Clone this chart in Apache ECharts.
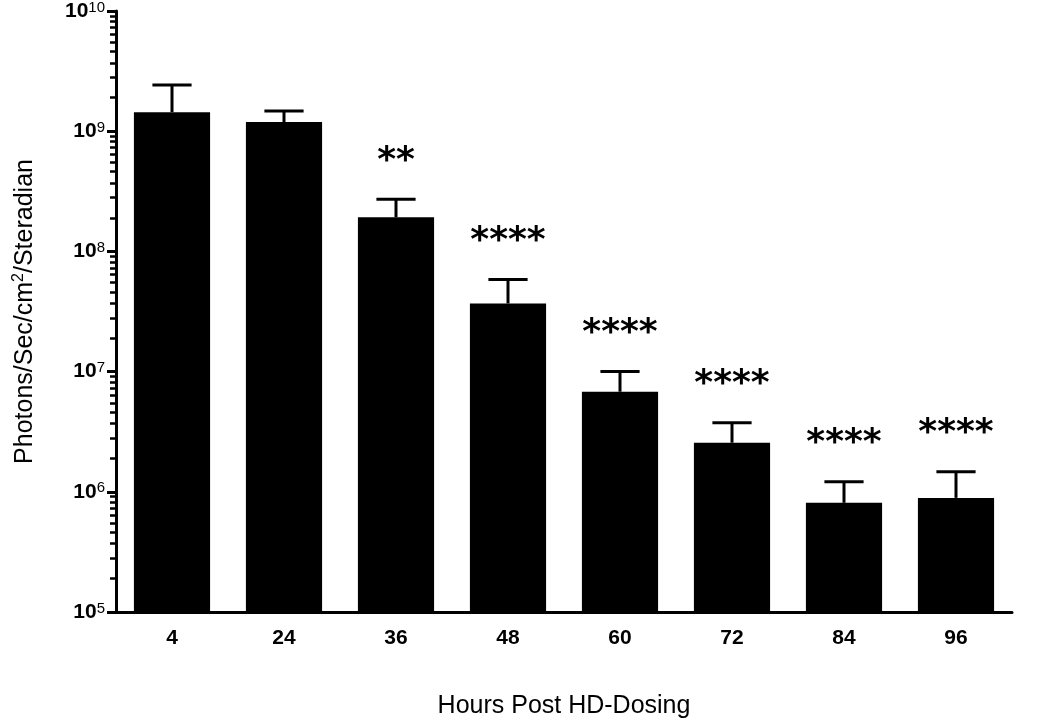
<!DOCTYPE html>
<html>
<head>
<meta charset="utf-8">
<script src="https://cdn.jsdelivr.net/npm/echarts@6/dist/echarts.min.js"></script>
<style>
  html, body { margin: 0; padding: 0; background: #fff; }
  #chart { width: 1050px; height: 721px; }
</style>
</head>
<body>
<div id="chart"></div>
<script>
// hours after dosing
var hours = ['4', '24', '36', '48', '60', '72', '84', '96'];
// mean signal, photons/sec/cm2/sr
var means = [1.44e9, 1.19e9, 1.92e8, 3.69e7, 6.8e6, 2.56e6, 8.1e5, 8.9e5];
// mean + error (upper whisker)
var upper = [2.42e9, 1.47e9, 2.71e8, 5.84e7, 1.0e7, 3.76e6, 1.21e6, 1.47e6];
// significance marks
var stars = ['', '', '**', '****', '****', '****', '****', '****'];

var chart = echarts.init(document.getElementById('chart'));

var font = 'Liberation Sans, Arial, sans-serif';

chart.setOption({
    animation: false,
    grid: {
        left: 116,
        right: 38,
        top: 11,
        bottom: 109,
        outerBoundsMode: 'none'
    },
    xAxis: {
        type: 'category',
        data: hours,
        name: 'Hours Post HD-Dosing',
        nameLocation: 'middle',
        nameGap: 82,
        nameTextStyle: { fontFamily: font, fontSize: 25, color: '#000' },
        axisLine: { lineStyle: { color: '#000', width: 3 } },
        axisTick: { alignWithLabel: true, length: 9, lineStyle: { width: 3, color: '#000' } },
        axisLabel: { margin: 16, fontFamily: font, fontSize: 21, fontWeight: 'bold', color: '#000' }
    },
    yAxis: {
        type: 'log',
        logBase: 10,
        min: 1e5,
        max: 1e10,
        name: '{a|Photons/Sec/cm}{s|2}{a|/Steradian}',
        nameLocation: 'middle',
        nameGap: 77,
        nameTextStyle: {
            color: '#000',
            rich: {
                a: { fontFamily: font, fontSize: 25, color: '#000', lineHeight: 28 },
                s: { fontFamily: font, fontSize: 16, color: '#000', verticalAlign: 'top', lineHeight: 28, padding: [0, 0, 12, 0] }
            }
        },
        splitLine: { show: false },
        axisLine: { show: true, lineStyle: { color: '#000', width: 3 } },
        axisTick: { show: true, length: 9, lineStyle: { width: 3, color: '#000' } },
        minorTick: { show: true, splitNumber: 10, length: 6, lineStyle: { width: 2.5, color: '#000' } },
        axisLabel: {
            margin: 11,
            color: '#000',
            formatter: function (v) {
                var e = Math.round(Math.log10(v));
                return '{b|10}{s|' + e + '}';
            },
            rich: {
                b: { fontFamily: font, fontSize: 21, fontWeight: 'bold', color: '#000', lineHeight: 22 },
                s: { fontFamily: font, fontSize: 15, color: '#000', verticalAlign: 'top', lineHeight: 22, padding: [0, 0, 9, 0] }
            }
        }
    },
    series: [{
        type: 'bar',
        data: means,
        barCategoryGap: '32%',
        itemStyle: { color: '#000' },
        clip: true,
        z: 2
    }, {
        type: 'custom',
        z: 3,
        data: hours.map(function (h, i) { return [i, means[i], upper[i]]; }),
        renderItem: function (params, api) {
            var top = api.coord([api.value(0), api.value(1)]);
            var cap = api.coord([api.value(0), api.value(2)]);
            var half = api.size([1, 0])[0] * 0.175;
            var kids = [{
                type: 'line',
                shape: { x1: top[0], y1: top[1], x2: cap[0], y2: cap[1] },
                style: { stroke: '#000', lineWidth: 3 }
            }, {
                type: 'line',
                shape: { x1: cap[0] - half, y1: cap[1], x2: cap[0] + half, y2: cap[1] },
                style: { stroke: '#000', lineWidth: 3 }
            }];
            var s = stars[params.dataIndex];
            if (s) {
                kids.push({
                    type: 'text',
                    x: cap[0],
                    y: cap[1] - 20,
                    style: {
                        text: s,
                        fontFamily: 'DejaVu Sans, sans-serif',
                        fontSize: 36,
                        fontWeight: 'bold',
                        fill: '#000',
                        align: 'center',
                        verticalAlign: 'bottom'
                    }
                });
            }
            return { type: 'group', children: kids };
        }
    }]
});
</script>
</body>
</html>
